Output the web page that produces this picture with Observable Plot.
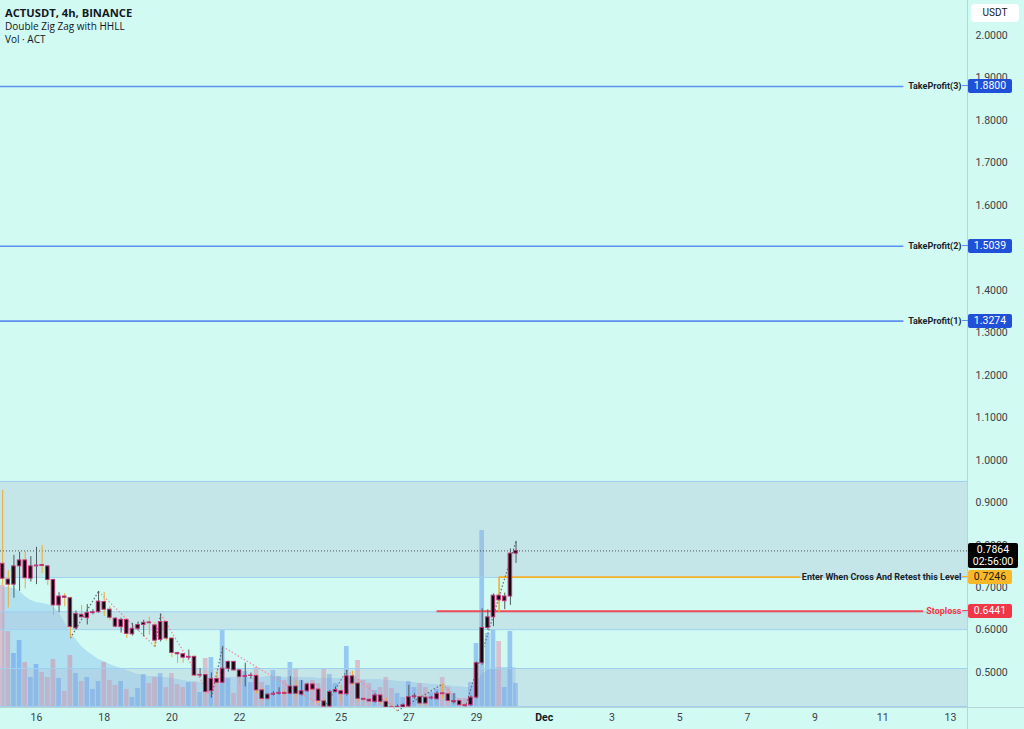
<!DOCTYPE html>
<html>
<head>
<meta charset="utf-8">
<script src="https://cdn.jsdelivr.net/npm/d3@7"></script>
<script src="https://cdn.jsdelivr.net/npm/@observablehq/plot@0.6"></script>
<style>
html,body{margin:0;padding:0;background:#d1faf3;}
#wrap{position:relative;width:1024px;height:729px;overflow:hidden;background:#d1faf3;font-family:Roboto,"Liberation Sans",sans-serif;}
#wrap svg{position:absolute;left:0;top:0;}
.ov{position:absolute;}
.title{position:absolute;left:5px;font-family:"Open Sans",sans-serif;font-size:10px;color:#131722;white-space:nowrap;line-height:13px;}
.pbox{position:absolute;left:968px;width:44px;height:14px;line-height:14px;font-size:10.5px;text-align:center;border-radius:2px;font-family:Roboto,sans-serif;}
</style>
</head>
<body>
<div id="wrap"></div>
<script>
// ---------- data ----------
const startTime = Date.UTC(2024, 10, 15, 0, 0); // first 4h candle: 15 Nov 2024 00:00 UTC
const opens = [0.756,0.719,0.707,0.750,0.764,0.721,0.750,0.753,0.750,0.718,
0.658,0.679,0.675,0.604,0.636,0.628,0.640,0.642,0.666,0.648,
0.627,0.607,0.624,0.590,0.603,0.612,0.618,0.611,0.577,0.619,
0.580,0.546,0.543,0.535,0.537,0.493,0.494,0.456,0.485,0.476,
0.509,0.525,0.505,0.490,0.492,0.492,0.458,0.438,0.448,0.450,
0.452,0.450,0.467,0.448,0.456,0.472,0.460,0.432,0.420,0.454,
0.456,0.449,0.491,0.474,0.438,0.436,0.431,0.446,0.431,0.418,
0.414,0.418,0.420,0.442,0.442,0.441,0.439,0.437,0.451,0.449,
0.430,0.433,0.423,0.423,0.441,0.522,0.605,0.630,0.681,0.668,
0.679,0.780];
const highs = [0.929,0.740,0.776,0.783,0.785,0.773,0.795,0.799,0.752,0.720,
0.688,0.686,0.677,0.645,0.658,0.660,0.648,0.691,0.689,0.655,
0.630,0.628,0.626,0.616,0.619,0.623,0.630,0.618,0.638,0.621,
0.582,0.548,0.545,0.553,0.539,0.509,0.496,0.499,0.502,0.561,
0.527,0.527,0.507,0.522,0.499,0.494,0.462,0.450,0.455,0.464,
0.456,0.491,0.480,0.481,0.475,0.476,0.462,0.436,0.458,0.466,
0.470,0.505,0.503,0.478,0.440,0.438,0.450,0.448,0.440,0.425,
0.424,0.426,0.470,0.450,0.445,0.446,0.444,0.455,0.473,0.452,
0.450,0.436,0.426,0.445,0.525,0.650,0.648,0.685,0.686,0.687,
0.791,0.809];
const lows = [0.705,0.652,0.675,0.691,0.697,0.713,0.707,0.733,0.705,0.634,
0.641,0.655,0.581,0.600,0.625,0.612,0.636,0.640,0.632,0.622,
0.604,0.593,0.580,0.586,0.598,0.584,0.588,0.561,0.572,0.574,
0.535,0.522,0.522,0.530,0.490,0.488,0.447,0.441,0.472,0.474,
0.501,0.503,0.470,0.466,0.484,0.451,0.434,0.435,0.445,0.447,
0.447,0.448,0.440,0.445,0.453,0.456,0.428,0.418,0.419,0.452,
0.430,0.445,0.470,0.431,0.432,0.430,0.428,0.426,0.415,0.411,
0.410,0.415,0.416,0.438,0.422,0.420,0.436,0.435,0.438,0.430,
0.426,0.420,0.418,0.420,0.438,0.517,0.600,0.608,0.665,0.648,
0.658,0.757];
const closes = [0.721,0.707,0.750,0.764,0.722,0.750,0.752,0.751,0.718,0.658,
0.679,0.676,0.607,0.638,0.630,0.640,0.642,0.667,0.648,0.629,
0.608,0.624,0.591,0.603,0.612,0.617,0.616,0.575,0.619,0.580,
0.546,0.543,0.535,0.537,0.493,0.494,0.454,0.485,0.476,0.509,
0.525,0.505,0.489,0.492,0.493,0.458,0.438,0.448,0.450,0.452,
0.450,0.467,0.450,0.456,0.472,0.460,0.433,0.420,0.454,0.459,
0.449,0.491,0.474,0.438,0.436,0.432,0.446,0.431,0.418,0.414,
0.419,0.423,0.442,0.444,0.427,0.427,0.441,0.450,0.449,0.433,
0.433,0.423,0.421,0.441,0.522,0.605,0.630,0.681,0.670,0.679,
0.780,0.7864];
const volumes = [1220,760,540,670,450,300,430,350,300,480,
290,160,520,340,260,300,180,260,450,270,
220,260,180,100,190,330,240,300,340,200,
340,230,200,250,250,150,490,500,280,770,
290,140,290,360,250,400,250,220,370,310,
270,450,380,270,200,270,240,390,330,240,
150,610,300,470,270,240,170,200,300,190,
140,100,260,200,240,200,150,180,300,200,
140,90,90,250,640,1770,740,780,660,200,
760,240];
const volumeMA = [1200,1200,1190,1160,1110,1070,1050,1040,1030,1010,
950,850,750,680,610,560,520,480,460,430,
410,390,370,350,330,320,310,310,300,300,
290,280,270,260,260,250,260,270,280,290,
300,300,300,300,300,300,300,310,310,300,
300,300,300,300,300,300,290,290,290,290,
290,290,290,280,280,280,280,280,270,270,
260,260,250,250,240,240,230,230,220,220,
210,210,200,200,250,330,370,390,400,400,
400,400];
const zigIdx = [12,17,27,28,37,39,57,61,70,78,82,91];
const zigPrice = [0.581,0.691,0.561,0.638,0.441,0.561,0.418,0.505,0.410,0.473,0.418,0.809];
const zoneLow = [0.7240, 0.6010, 0.4200];
const zoneHigh = [0.9500, 0.6430, 0.5095];
const levelNames = ["TakeProfit(3)", "TakeProfit(2)", "TakeProfit(1)"];
const levelPrices = [1.8800, 1.5039, 1.3274];
const entryLabel = "Enter When Cross And Retest this Level";
const entryPrice = 0.7246;
const stopLabel = "Stoploss";
const stopPrice = 0.6441;
const lastPrice = 0.7864;
const countdown = "02:56:00";
// 1.5000 sits fully under the 1.5039 price tag in the reference, so it is not listed
const yTicks = [0.5,0.6,0.7,0.8,0.9,1.0,1.1,1.2,1.3,1.4,1.6,1.7,1.8,1.9,2.0];
const xTickDates = [[10,16],[10,18],[10,20],[10,22],[10,25],[10,27],[10,29],[11,1],[11,3],[11,5],[11,7],[11,9],[11,11],[11,13]].map(([m,d]) => new Date(Date.UTC(2024,m,d)));
const xTickLabels = ["16","18","20","22","25","27","29","Dec","3","5","7","9","11","13"];
const titleLines = ["ACTUSDT, 4h, BINANCE", "Double Zig Zag with HHLL", "Vol · ACT"];

// ---------- derived tables ----------
const H4 = 4 * 3600 * 1000;
const dates = opens.map((_, i) => new Date(startTime + i * H4));
const candles = dates.map((date, i) => ({
  date, open: opens[i], high: highs[i], low: lows[i], close: closes[i],
  volume: volumes[i], ma: volumeMA[i], up: closes[i] >= opens[i]
}));
const zones = zoneLow.map((lo, i) => ({lo, hi: zoneHigh[i]}));
const zig = zigIdx.slice(1).map((idx, k) => ({
  x1: dates[zigIdx[k]], y1: zigPrice[k], x2: dates[idx], y2: zigPrice[k + 1],
  up: zigPrice[k + 1] > zigPrice[k]
}));
const xDomain = [new Date(Date.UTC(2024,10,14,22,28,30)), new Date(Date.UTC(2024,11,13,12,6))];
const tpEnd = new Date(Date.UTC(2024,11,11,15));
const entryEnd = new Date(Date.UTC(2024,11,8,13));
const stopEnd = new Date(Date.UTC(2024,11,12,5));
const tpLines = levelNames.map((name, i) => ({name, price: levelPrices[i], start: xDomain[0], end: tpEnd}));
const entryPath = [
  {date: dates[88], price: stopPrice},
  {date: dates[88], price: entryPrice},
  {date: entryEnd, price: entryPrice}
];
const stopLine = [{price: stopPrice, start: dates[77], end: stopEnd}];
const labels = [
  ...levelNames.map((n, i) => ({text: n, price: levelPrices[i], color: "#1b1e2a"})),
  {text: entryLabel, price: entryPrice, color: "#1b1e2a"},
  {text: stopLabel, price: stopPrice, color: "#f23645"}
];
const labelMap = new Map(xTickDates.map((d, i) => [+d, xTickLabels[i]]));

const W = 1024, H = 729, MR = 57, MB = 22;
const BLUE = "#5b8ff0", ORANGE = "#f5ae28", RED = "#ef4a58";
const offset = (d, min) => new Date(+d + min * 60000);

// ---------- volume layer ----------
const volPlot = Plot.plot({
  width: W, height: H, marginLeft: 0, marginRight: MR, marginTop: 0, marginBottom: MB,
  style: {background: "transparent"},
  x: {type: "utc", domain: xDomain, axis: null},
  y: {domain: [0, 1770], range: [707, 530], axis: null},
  marks: [
    Plot.areaY(candles, {x: "date", y: "ma", fill: "#5aa0ec", fillOpacity: 0.28}),
    Plot.rect(candles, {
      x1: d => offset(d.date, -100), x2: d => offset(d.date, 100),
      y1: () => 0, y2: "volume",
      fill: d => d.up ? "#4d8ff0" : "#e07c9c", fillOpacity: 0.45
    })
  ]
});

// ---------- price layer ----------
const chart = Plot.plot({
  width: W, height: H, marginLeft: 0, marginRight: MR, marginTop: 0, marginBottom: MB,
  style: {background: "transparent", fontFamily: "Roboto, sans-serif", fontSize: "10.5px", color: "#3b4048", overflow: "visible"},
  x: {type: "utc", domain: xDomain},
  y: {domain: [0.4177, 2.0824]},
  marks: [
    Plot.rect(zones, {y1: "lo", y2: "hi", fill: "#a9bbd5", fillOpacity: 0.3}),
    Plot.ruleY(zones, {y: "lo", stroke: "#9fd0f0", strokeWidth: 1}),
    Plot.ruleY(zones, {y: "hi", stroke: "#9fd0f0", strokeWidth: 1}),
    Plot.ruleY([lastPrice], {stroke: "#2a2a2a", strokeDasharray: "1,2", strokeWidth: 1, strokeOpacity: 0.8}),
    Plot.ruleY(tpLines, {y: "price", x1: "start", x2: "end", stroke: BLUE, strokeWidth: 1.6}),
    Plot.ruleY(stopLine, {y: "price", x1: "start", x2: "end", stroke: RED, strokeWidth: 2}),
    Plot.line(entryPath, {x: "date", y: "price", stroke: ORANGE, strokeWidth: 1.6}),
    Plot.link(zig, {x1: "x1", y1: "y1", x2: "x2", y2: "y2",
      stroke: d => d.up ? "#5f6e70" : "#f08a9a", strokeWidth: 1.2, strokeDasharray: "1.5,2"}),
    Plot.ruleX(candles, {x: "date", y1: "low", y2: "high",
      stroke: d => d.up ? "#4f5a5c" : "#f0a830", strokeWidth: 1, clip: true}),
    Plot.rect(candles, {
      x1: d => offset(d.date, -75), x2: d => offset(d.date, 75),
      y1: "open", y2: "close",
      fill: "#0b0b0b", stroke: "#c2367a", strokeWidth: 1, clip: true
    }),
    Plot.text(labels, {y: "price", text: "text", frameAnchor: "right", textAnchor: "end", dx: -6,
      fill: "color", fontWeight: "bold", fontSize: 9, fontFamily: "Roboto, sans-serif"}),
    Plot.axisY(yTicks, {anchor: "right", tickSize: 0, tickPadding: 8, tickFormat: d3.format(".4f"),
      label: null, fontSize: 10.5, fill: "#3b4048", textAnchor: "start"}),
    Plot.axisX(xTickDates, {anchor: "bottom", tickSize: 0, tickPadding: 6,
      tickFormat: d => labelMap.get(+d), label: null, fontSize: 10.5, fill: "#3b4048"})
  ]
});
d3.select(chart).selectAll("text").filter(function () { return this.textContent === "Dec"; })
  .attr("font-weight", "bold").attr("fill", "#131722");

const wrap = document.getElementById("wrap");
wrap.appendChild(volPlot);
wrap.appendChild(chart);

// ---------- overlays (positions from Plot's own y scale) ----------
const ys = chart.scale("y");
function add(html, css, cls) {
  const el = document.createElement("div");
  el.className = cls || "ov";
  el.innerHTML = html;
  Object.assign(el.style, css);
  wrap.appendChild(el);
  return el;
}
// frame separators
add("", {left: "967px", top: "0px", width: "1px", height: "729px", background: "#b9d5d3"});
add("", {left: "0px", top: "707px", width: "1024px", height: "1px", background: "#b9d5d3"});
// title
titleLines.forEach((t, i) => add(t, {top: (6 + i * 13.5) + "px", fontWeight: i === 0 ? "bold" : "normal",
  fontSize: i === 0 ? "11.2px" : "10px"}, "title"));
// USDT
add("USDT", {left: "971px", top: "4px", width: "48px", height: "18px", lineHeight: "18px", background: "#ffffff",
  borderRadius: "4px", textAlign: "center", fontSize: "10px", color: "#131722"});
// level dashes and price boxes
function dash(price, color) {
  add("", {left: "962px", top: (ys.apply(price) - 0.5) + "px", width: "6px", height: "1px", background: color});
}
function pbox(price, bg, fg) {
  return add(d3.format(".4f")(price), {top: (ys.apply(price) - 7) + "px", background: bg, color: fg}, "pbox");
}
levelPrices.forEach(p => { dash(p, BLUE); pbox(p, "#2150d8", "#ffffff"); });
dash(entryPrice, ORANGE);
pbox(entryPrice, "#f9b826", "#1a1a1a");
dash(stopPrice, RED);
pbox(stopPrice, "#f23645", "#ffffff");
add(d3.format(".4f")(lastPrice) + "<br>" + countdown, {
  left: "968px", top: (ys.apply(lastPrice) - 7) + "px", width: "50px", height: "25px",
  background: "#000000", color: "#ffffff", fontSize: "10.5px", lineHeight: "12px",
  textAlign: "center", borderRadius: "2px", paddingTop: "1px", boxSizing: "border-box"});
</script>
</body>
</html>
